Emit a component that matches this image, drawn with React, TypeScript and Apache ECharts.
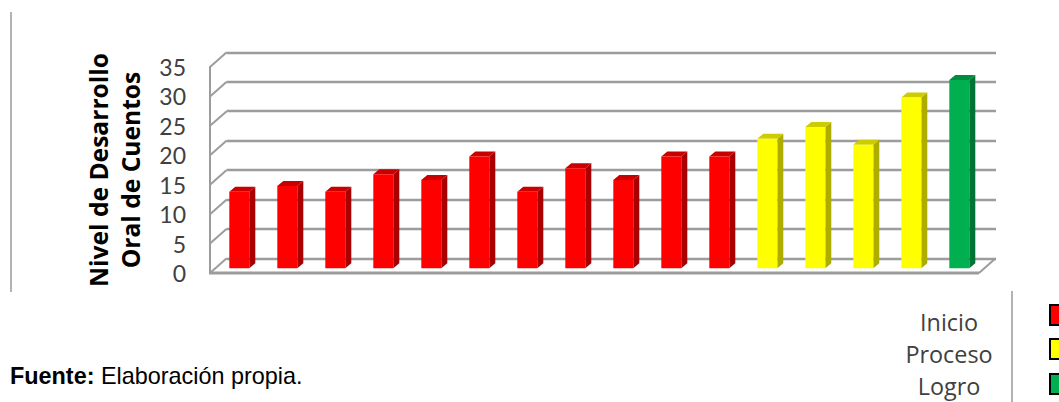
import React, { useEffect, useRef } from "react";
import * as echarts from "echarts";

const categories = ["1","2","3","4","5","6","7","8","9","10","11","12","13","14","15","16"];
const inicioValues = [13, 14, 13, 16, 15, 19, 13, 17, 15, 19, 19, null, null, null, null, null];
const procesoValues = [null, null, null, null, null, null, null, null, null, null, null, 22, 24, 21, 29, null];
const logroValues = [null, null, null, null, null, null, null, null, null, null, null, null, null, null, null, 32];
const yTicks = [0, 5, 10, 15, 20, 25, 30, 35];
const legendNames = ["Inicio", "Proceso", "Logro"];
const AXIS_NAME = "Nivel de Desarrollo\nOral de Cuentos";

const GRID_COLOR = "#9C9C9C";
const DX = 16.7;
const DY = 14.7;
const BAR_W = 20;
const BAR_DX = 6;
const BAR_DY = 5;

function bar3d(face: string, side: string, top: string) {
  return (_p: any, api: any) => {
    const v = api.value(1);
    const base = api.coord([api.value(0), 0]);
    const head = api.coord([api.value(0), v]);
    const l = base[0] - BAR_W / 2;
    const r = base[0] + BAR_W / 2;
    return {
      type: "group",
      children: [
        { type: "polygon", shape: { points: [[r, head[1]], [r + BAR_DX, head[1] - BAR_DY], [r + BAR_DX, base[1] - BAR_DY], [r, base[1]]] }, style: { fill: side } },
        { type: "polygon", shape: { points: [[l, head[1]], [l + BAR_DX, head[1] - BAR_DY], [r + BAR_DX, head[1] - BAR_DY], [r, head[1]]] }, style: { fill: top } },
        { type: "rect", shape: { x: l, y: head[1], width: BAR_W, height: base[1] - head[1] }, style: { fill: face } },
      ],
    };
  };
}

const barData = (vals: (number | null)[]) =>
  vals.map((v, i) => (v === null ? null : [i, v])).filter(Boolean);

export default function App() {
  const ref = useRef<HTMLDivElement>(null);
  useEffect(() => {
    const chart = echarts.init(ref.current!, undefined, { renderer: "svg" });
    const labelFont = "Lato, sans-serif";
    const wideFont = '"Open Sans", sans-serif';
    const barSeries = (name: string, vals: (number | null)[], f: string, s: string, t: string) => ({
      name,
      type: "custom",
      xAxisIndex: 2,
      yAxisIndex: 2,
      z: 5,
      data: barData(vals),
      encode: { x: 0, y: 1 },
      renderItem: bar3d(f, s, t),
    });
    chart.setOption({
      animation: false,
      backgroundColor: "#fff",
      grid: [
        { left: 226.7, top: 52.3, width: 769.3, height: 206 },
        { left: 210, top: 67, width: 769, height: 206 },
        { left: 215.3, top: 62.3, width: 768, height: 206 },
      ],
      xAxis: [
        { gridIndex: 0, type: "value", min: 0, max: 1, show: false },
        { gridIndex: 1, type: "value", min: 0, max: 1, show: false },
        { gridIndex: 2, type: "category", data: categories, show: false },
      ],
      yAxis: [
        {
          gridIndex: 0, type: "value", min: 0, max: 35, interval: 5,
          axisLine: { show: false }, axisTick: { show: false }, axisLabel: { show: false },
          splitLine: { show: true, lineStyle: { color: GRID_COLOR, width: 2.4 } },
        },
        {
          gridIndex: 1, type: "value", min: 0, max: 35, interval: 5,
          axisLine: { show: true, lineStyle: { color: GRID_COLOR, width: 2 } },
          axisTick: { show: false },
          axisLabel: { show: true, color: "#404040", fontFamily: labelFont, fontSize: 23, margin: 24 },
          splitLine: { show: false },
          name: AXIS_NAME,
          nameLocation: "middle",
          nameRotate: 90,
          nameGap: 64,
          nameTextStyle: { color: "#000", fontFamily: wideFont, fontWeight: "bold", fontSize: 24.6, lineHeight: 32 },
        },
        { gridIndex: 2, type: "value", min: 0, max: 35, interval: 5, show: false },
      ],
      series: [
        {
          type: "custom", xAxisIndex: 0, yAxisIndex: 0, z: 2, silent: true,
          data: yTicks.map((t) => [0, t]),
          encode: { x: 0, y: 1 },
          renderItem: (_p: any, api: any) => {
            const c = api.coord([0, api.value(1)]);
            return {
              type: "line",
              shape: { x1: c[0], y1: c[1], x2: c[0] - DX, y2: c[1] + DY },
              style: { stroke: GRID_COLOR, lineWidth: 2 },
            };
          },
        },
        {
          type: "custom", xAxisIndex: 1, yAxisIndex: 1, z: 2, silent: true,
          data: [[0, 0]],
          encode: { x: 0, y: 1 },
          renderItem: (_p: any, api: any) => {
            const a = api.coord([0, 0]);
            const b = api.coord([1, 0]);
            return {
              type: "group",
              children: [
                { type: "line", shape: { x1: a[0] - 1, y1: a[1], x2: b[0], y2: b[1] }, style: { stroke: GRID_COLOR, lineWidth: 3 } },
                { type: "line", shape: { x1: b[0], y1: b[1], x2: b[0] + DX, y2: b[1] - DY }, style: { stroke: GRID_COLOR, lineWidth: 2 } },
              ],
            };
          },
        },
        barSeries(legendNames[0], inicioValues, "#FF0000", "#A80000", "#C80000"),
        barSeries(legendNames[1], procesoValues, "#FFFF00", "#ADAD00", "#CCCC00"),
        barSeries(legendNames[2], logroValues, "#00B050", "#007434", "#008C40"),
      ],
      graphic: [
        { type: "line", shape: { x1: 11, y1: 12, x2: 11, y2: 292 }, style: { stroke: "#A0A0A0", lineWidth: 1.6 } },
        { type: "line", shape: { x1: 1012, y1: 291, x2: 1012, y2: 402 }, style: { stroke: "#A0A0A0", lineWidth: 1.6 } },
        ...legendNames.map((n, i) => ({
          type: "text",
          x: 949, y: [322, 354, 386][i],
          style: { text: n, fill: "#404040", font: `23.4px ${wideFont}`, align: "center", verticalAlign: "middle" },
        })),
        ...["#FF0000", "#FFFF00", "#00B050"].map((c, i) => ({
          type: "rect",
          shape: { x: 1050, y: [305, 339, 374][i], width: 14, height: 20 },
          style: { fill: c, stroke: "#000", lineWidth: 2 },
        })),
        {
          type: "text",
          x: 10, y: 376,
          style: {
            text: "{b|Fuente:} {n|Elaboración propia.}",
            verticalAlign: "middle",
            rich: {
              b: { font: 'bold 23.4px "Liberation Sans", Arial, sans-serif', fill: "#000" },
              n: { font: '23.4px "Liberation Sans", Arial, sans-serif', fill: "#000" },
            },
            font: '23.4px "Liberation Sans", Arial, sans-serif',
            fill: "#000",
          },
        },
      ],
    });
    return () => chart.dispose();
  }, []);
  return <div ref={ref} style={{ position: "fixed", left: 0, top: 0, width: 1059, height: 402 }} />;
}
